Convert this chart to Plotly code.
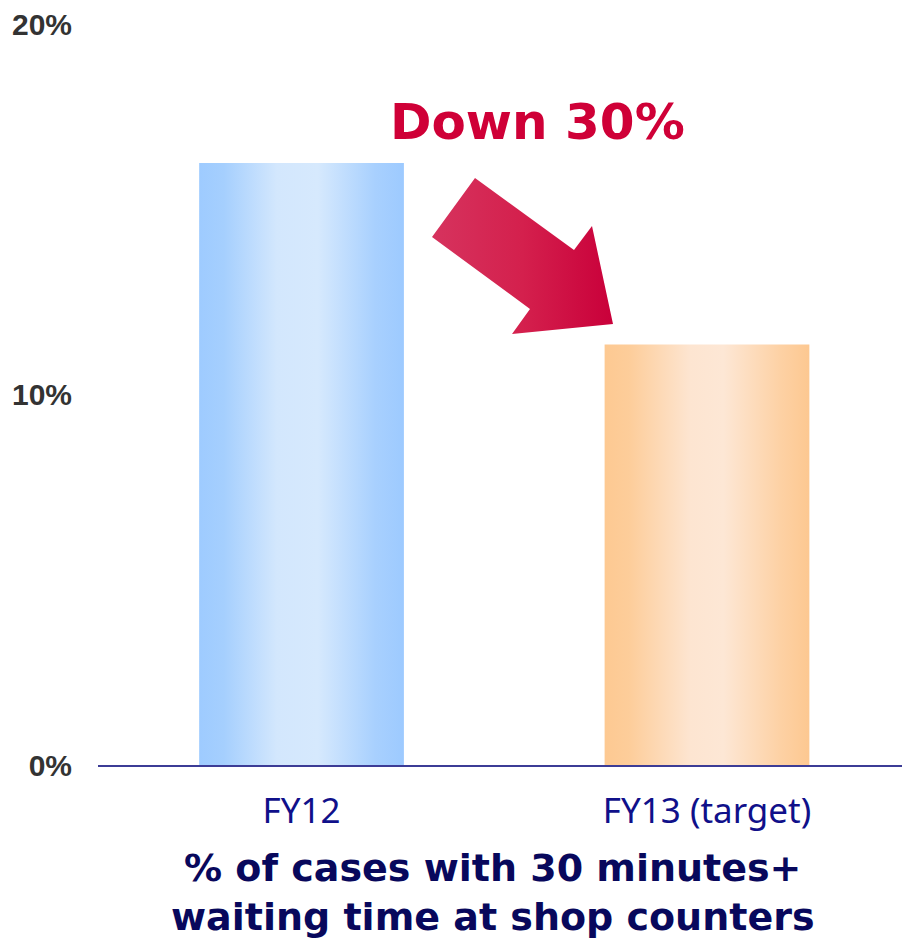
import plotly.graph_objects as go

# Share of shop-counter cases that waited 30 minutes or longer
categories = ["FY12", "FY13 (target)"]
values = [16.25, 11.35]          # percent
y_ticks = [0, 10, 20]
y_tick_labels = ["0%", "10%", "20%"]

bar_width = 0.505
bar_gradients = [
    [[0.0, "#9ecbff"], [0.12, "#a5cffe"], [0.38, "#d3e7fd"],
     [0.58, "#d6e9fd"], [0.86, "#a8d0fe"], [1.0, "#9dcaff"]],
    [[0.0, "#fdc992"], [0.12, "#fdcd9a"], [0.42, "#fde5d1"],
     [0.58, "#fde7d5"], [0.86, "#fdd1a4"], [1.0, "#fdc891"]],
]

fig = go.Figure()

# Bars drawn as filled rectangles so they can carry a horizontal gradient
for i, (name, v) in enumerate(zip(categories, values)):
    x0, x1 = i - bar_width / 2, i + bar_width / 2
    fig.add_trace(go.Scatter(
        x=[x0, x1, x1, x0, x0],
        y=[0, 0, v, v, 0],
        mode="lines",
        line=dict(width=0),
        fill="toself",
        fillgradient=dict(type="horizontal", colorscale=bar_gradients[i]),
        hoverinfo="text",
        text=f"{name}: {v:.1f}%",
        showlegend=False,
    ))

# Block arrow between the bars, laid out on a pixel-based overlay axis
arrow_x = [475, 432, 530, 512, 613, 592, 574, 475]
arrow_y = [178, 237, 309, 334, 324, 226, 250, 178]
fig.add_trace(go.Scatter(
    x=arrow_x, y=arrow_y,
    xaxis="x2", yaxis="y2",
    mode="lines",
    line=dict(width=0),
    fill="toself",
    fillgradient=dict(type="horizontal",
                      colorscale=[[0, "#d6335e"], [0.5, "#d4204d"], [1, "#c9003a"]]),
    hoverinfo="skip",
    showlegend=False,
))

fig.update_layout(
    width=902, height=938,
    margin=dict(l=98, r=0, t=24, b=173),
    paper_bgcolor="white",
    plot_bgcolor="white",
    xaxis=dict(
        range=[-0.502, 1.481],
        tickvals=[0, 1],
        ticktext=categories,
        tickfont=dict(family="Noto Sans, Liberation Sans, Arial", size=35, color="#10108a"),
        showgrid=False, zeroline=False,
        showline=True, linecolor="#3c3c96", linewidth=1.5,
        ticks="", ticklabelstandoff=14,
        fixedrange=True,
    ),
    yaxis=dict(
        range=[0, 20],
        tickvals=y_ticks,
        ticktext=y_tick_labels,
        tickfont=dict(family="Liberation Sans, Arial", size=30,
                      color="#333333", weight="bold"),
        showgrid=False, zeroline=False, showline=False,
        ticks="", ticklabelstandoff=25,
        fixedrange=True,
    ),
    xaxis2=dict(overlaying="x", range=[98, 902], visible=False, fixedrange=True),
    yaxis2=dict(overlaying="y", range=[765, 24], visible=False, fixedrange=True),
    annotations=[
        dict(
            text="Down 30%",
            xref="paper", yref="paper", x=0.5466, y=0.868,
            xanchor="center", yanchor="middle", showarrow=False,
            font=dict(family="DejaVu Sans", size=50, color="#cf0037", weight="bold"),
        ),
        dict(
            text="% of cases with 30 minutes+<br>waiting time at shop counters",
            xref="paper", yref="paper", x=0.491, y=-0.107,
            xanchor="center", yanchor="top", showarrow=False,
            font=dict(family="DejaVu Sans", size=38, color="#08085c", weight="bold"),
        ),
    ],
)

fig.write_html("out.html")
